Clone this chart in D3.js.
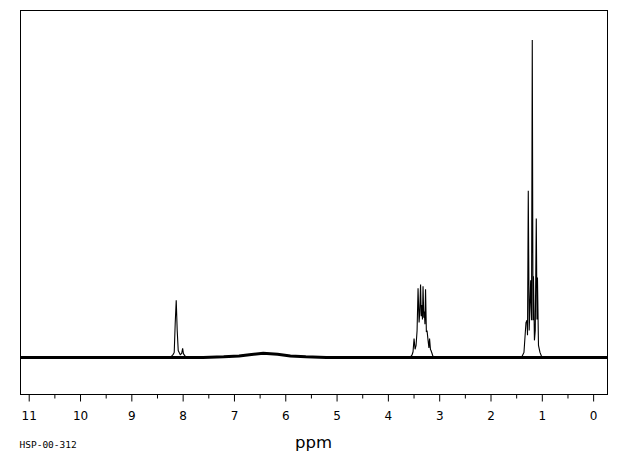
<!DOCTYPE html>
<html><head><meta charset="utf-8">
<script src="https://cdn.jsdelivr.net/npm/d3@7"></script>
<style>
html,body{margin:0;padding:0;background:#fff;}
svg{display:block;}
</style></head>
<body>
<svg id="chart" width="620" height="455"></svg>
<script>
// ---- data ----
const xDomain = [11.16, -0.28];           // ppm, reversed axis
const majorTicks = [11,10,9,8,7,6,5,4,3,2,1,0];
const minorTicks = [10.5,9.5,8.5,7.5,6.5,5.5,4.5,3.5,2.5,1.5,0.5];
const xLabel = "ppm";
const sampleId = "HSP-00-312";

// broad baseline (incl. hump near 6.4 ppm), [ppm, relative intensity %]
const baseline = [
  [11.16,0],[7.6,0],[7.2,0.2],[6.9,0.5],[6.7,0.9],[6.43,1.3],[6.15,1.0],[5.9,0.5],[5.6,0.2],[5.2,0],[-0.28,0]
];

// sharp signals, [ppm, relative intensity %]
const peakCHO = [
  [8.24,0],[8.184,1.0],[8.164,1.6],[8.145,10.7],[8.125,18.0],[8.106,8.5],[8.086,2.2],[8.047,0.9],
  [8.018,1.3],[8.00,2.9],[7.985,1.2],[7.95,0.4],[7.91,0]
];
const peakCH2 = [
  [3.57,0],[3.529,0.8],[3.51,1.8],[3.49,6.0],[3.47,2.6],[3.451,3.8],[3.431,8.5],[3.412,21.8],[3.392,11.0],
  [3.38,14.0],[3.363,23.0],[3.35,13.0],[3.338,16.5],[3.326,12.0],[3.315,22.4],[3.30,12.5],[3.289,14.5],
  [3.278,10.5],[3.266,21.5],[3.25,8.0],[3.237,8.5],[3.217,5.4],[3.20,3.0],[3.188,6.0],[3.17,2.5],[3.159,2.2],[3.12,0.3],[3.08,0]
];
const peakCH3 = [
  [1.42,0],[1.387,0.3],[1.348,1.6],[1.309,11.0],[1.289,11.7],[1.279,7.0],[1.264,52.5],[1.246,8.5],
  [1.217,24.3],[1.201,11.7],[1.186,100],[1.172,11.7],[1.163,25.6],[1.144,5.4],[1.128,8.5],
  [1.108,43.8],[1.094,12.0],[1.085,25.2],[1.065,3.8],[1.036,1.6],[0.997,0],[0.96,0]
];

// ---- layout ----
const svg = d3.select("#chart");
const frame = {left:20.5, right:607.5, top:10.5, bottom:394.5};

const x = d3.scaleLinear().domain(xDomain).range([frame.left, frame.right]);
const y = d3.scaleLinear().domain([0,100]).range([357.5, 40]);

// frame
svg.append("rect")
  .attr("x", frame.left).attr("y", frame.top)
  .attr("width", frame.right-frame.left).attr("height", frame.bottom-frame.top)
  .attr("fill","none").attr("stroke","#000").attr("stroke-width",1);

// axes
const gMajor = svg.append("g").attr("transform",`translate(0,${frame.bottom})`)
  .call(d3.axisBottom(x).tickValues(majorTicks).tickFormat(d3.format("d")).tickSize(7).tickSizeOuter(0).tickPadding(10));
gMajor.select(".domain").remove();
gMajor.selectAll("text").attr("font-family","DejaVu Sans, sans-serif").attr("font-size",12).attr("fill","#000");
gMajor.selectAll("line").attr("stroke","#000");

const gMinor = svg.append("g").attr("transform",`translate(0,${frame.bottom})`)
  .call(d3.axisBottom(x).tickValues(minorTicks).tickFormat("").tickSize(4).tickSizeOuter(0));
gMinor.select(".domain").remove();
gMinor.selectAll("line").attr("stroke","#000");

// spectrum
const spectrum = baseline.concat(peakCHO, peakCH2, peakCH3).sort((a,b)=>b[0]-a[0]);
const line = d3.line().x(d=>x(d[0])).y(d=>y(d[1]));

// noise band along the baseline
svg.append("path").datum(baseline)
  .attr("d", line).attr("fill","none").attr("stroke","#000").attr("stroke-width",3);

svg.append("path").datum(spectrum)
  .attr("d", line).attr("fill","none").attr("stroke","#000").attr("stroke-width",1.1)
  .attr("stroke-linejoin","miter");

// labels
svg.append("text").attr("x", 313.5).attr("y", 448).attr("text-anchor","middle")
  .attr("font-family","DejaVu Sans, sans-serif").attr("font-size",16.5).attr("fill","#000").text(xLabel);
svg.append("text").attr("x", 19.5).attr("y", 448)
  .attr("font-family","DejaVu Sans Mono, monospace").attr("font-size",9.5).attr("fill","#000").text(sampleId);
</script>
</body></html>
